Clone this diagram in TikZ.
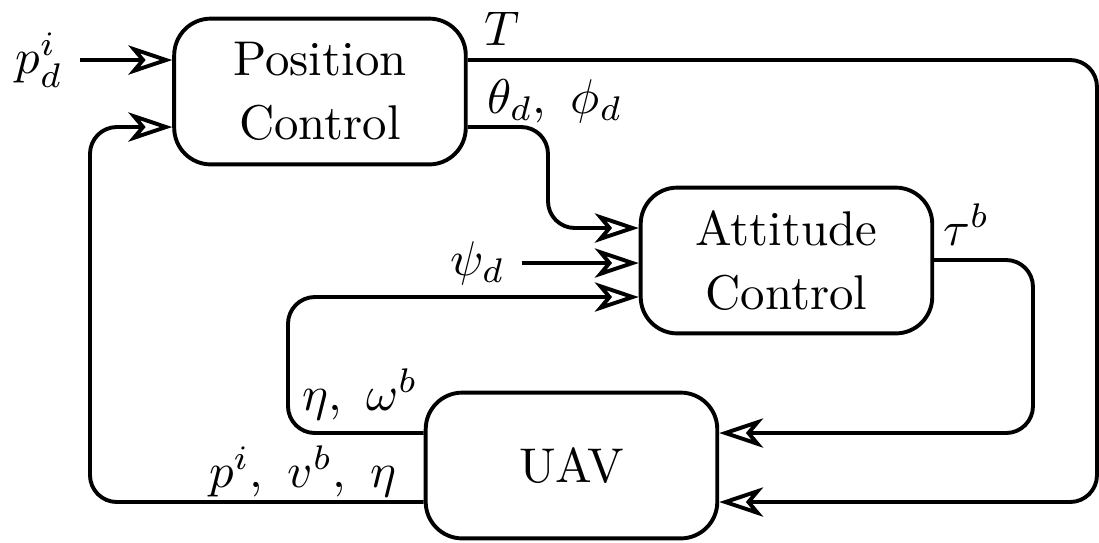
\documentclass[tikz,border=0pt]{standalone}
\usepackage{amsmath}
\usepackage{tikz}
\usetikzlibrary{arrows.meta}

\begin{document}
\begin{tikzpicture}[x=0.0072cm, y=-0.0072cm,
    bloco/.style={draw, thick, rounded corners=7.5pt, align=center,
        minimum width=2.1cm, minimum height=1.05cm},
    seta/.style={thick, rounded corners=5.5pt,
        -{Stealth[open, length=9pt, width=6pt, inset=2.5pt]}}]
    \useasboundingbox (0,0) rectangle (1099,542);
    % Blocos
    \node[bloco] (pos) at (320,91.5) {Position\\[1pt]Control};
    \node[bloco] (att) at (786.5,260.5) {Attitude\\[1pt]Control};
    \node[bloco] (uav) at (571.5,465.5) {UAV};
    % Cantos
    \coordinate (tr) at (1097,60);
    \coordinate (br) at (1097,502);
    \coordinate (tl) at (548,127);
    \coordinate (ml) at (548,228);
    \coordinate (taur) at (1033,260);
    \coordinate (taub) at (1033,433);
    \coordinate (fa) at (288,433);
    \coordinate (fb) at (288,297);
    \coordinate (pl) at (90,502);
    \coordinate (pt) at (90,127);
    % Entradas
    \node[left] (pdi) at (80,60) {$p_d^i$};
    \node[left] (psid) at (522,263) {$\psi_d$};
    \draw[seta] (pdi.east) -- (pdi.east -| pos.west);
    \draw[seta] (psid.east) -- (psid.east -| att.west);
    % Ligacoes
    \draw[seta] (pos.east |- tr) -- (tr) -- (br) -- (uav.east |- br);
    \draw[seta] (pos.east |- tl) -- (tl) -- (ml) -- (att.west |- ml);
    \draw[seta] (att.east |- taur) -- (taur) -- (taub) -- (uav.east |- taub);
    \draw[seta] (uav.west |- fa) -- (fa) -- (fb) -- (att.west |- fb);
    \draw[seta] (uav.west |- pl) -- (pl) -- (pt) -- (pos.west |- pt);
    % Rotulos
    \node[anchor=base west] (lT) at (467,45) {$T$};
    \node[anchor=base west] (lang) at (470,113) {$\theta_d,\ \phi_d$};
    \node[anchor=base west] (ltau) at (926,245) {$\tau^b$};
    \node[anchor=base west] (leta) at (285,410) {$\eta,\ \omega^b$};
    \node[anchor=base east] (lp) at (414,487) {$p^i,\ v^b,\ \eta$};
\end{tikzpicture}
\end{document}
